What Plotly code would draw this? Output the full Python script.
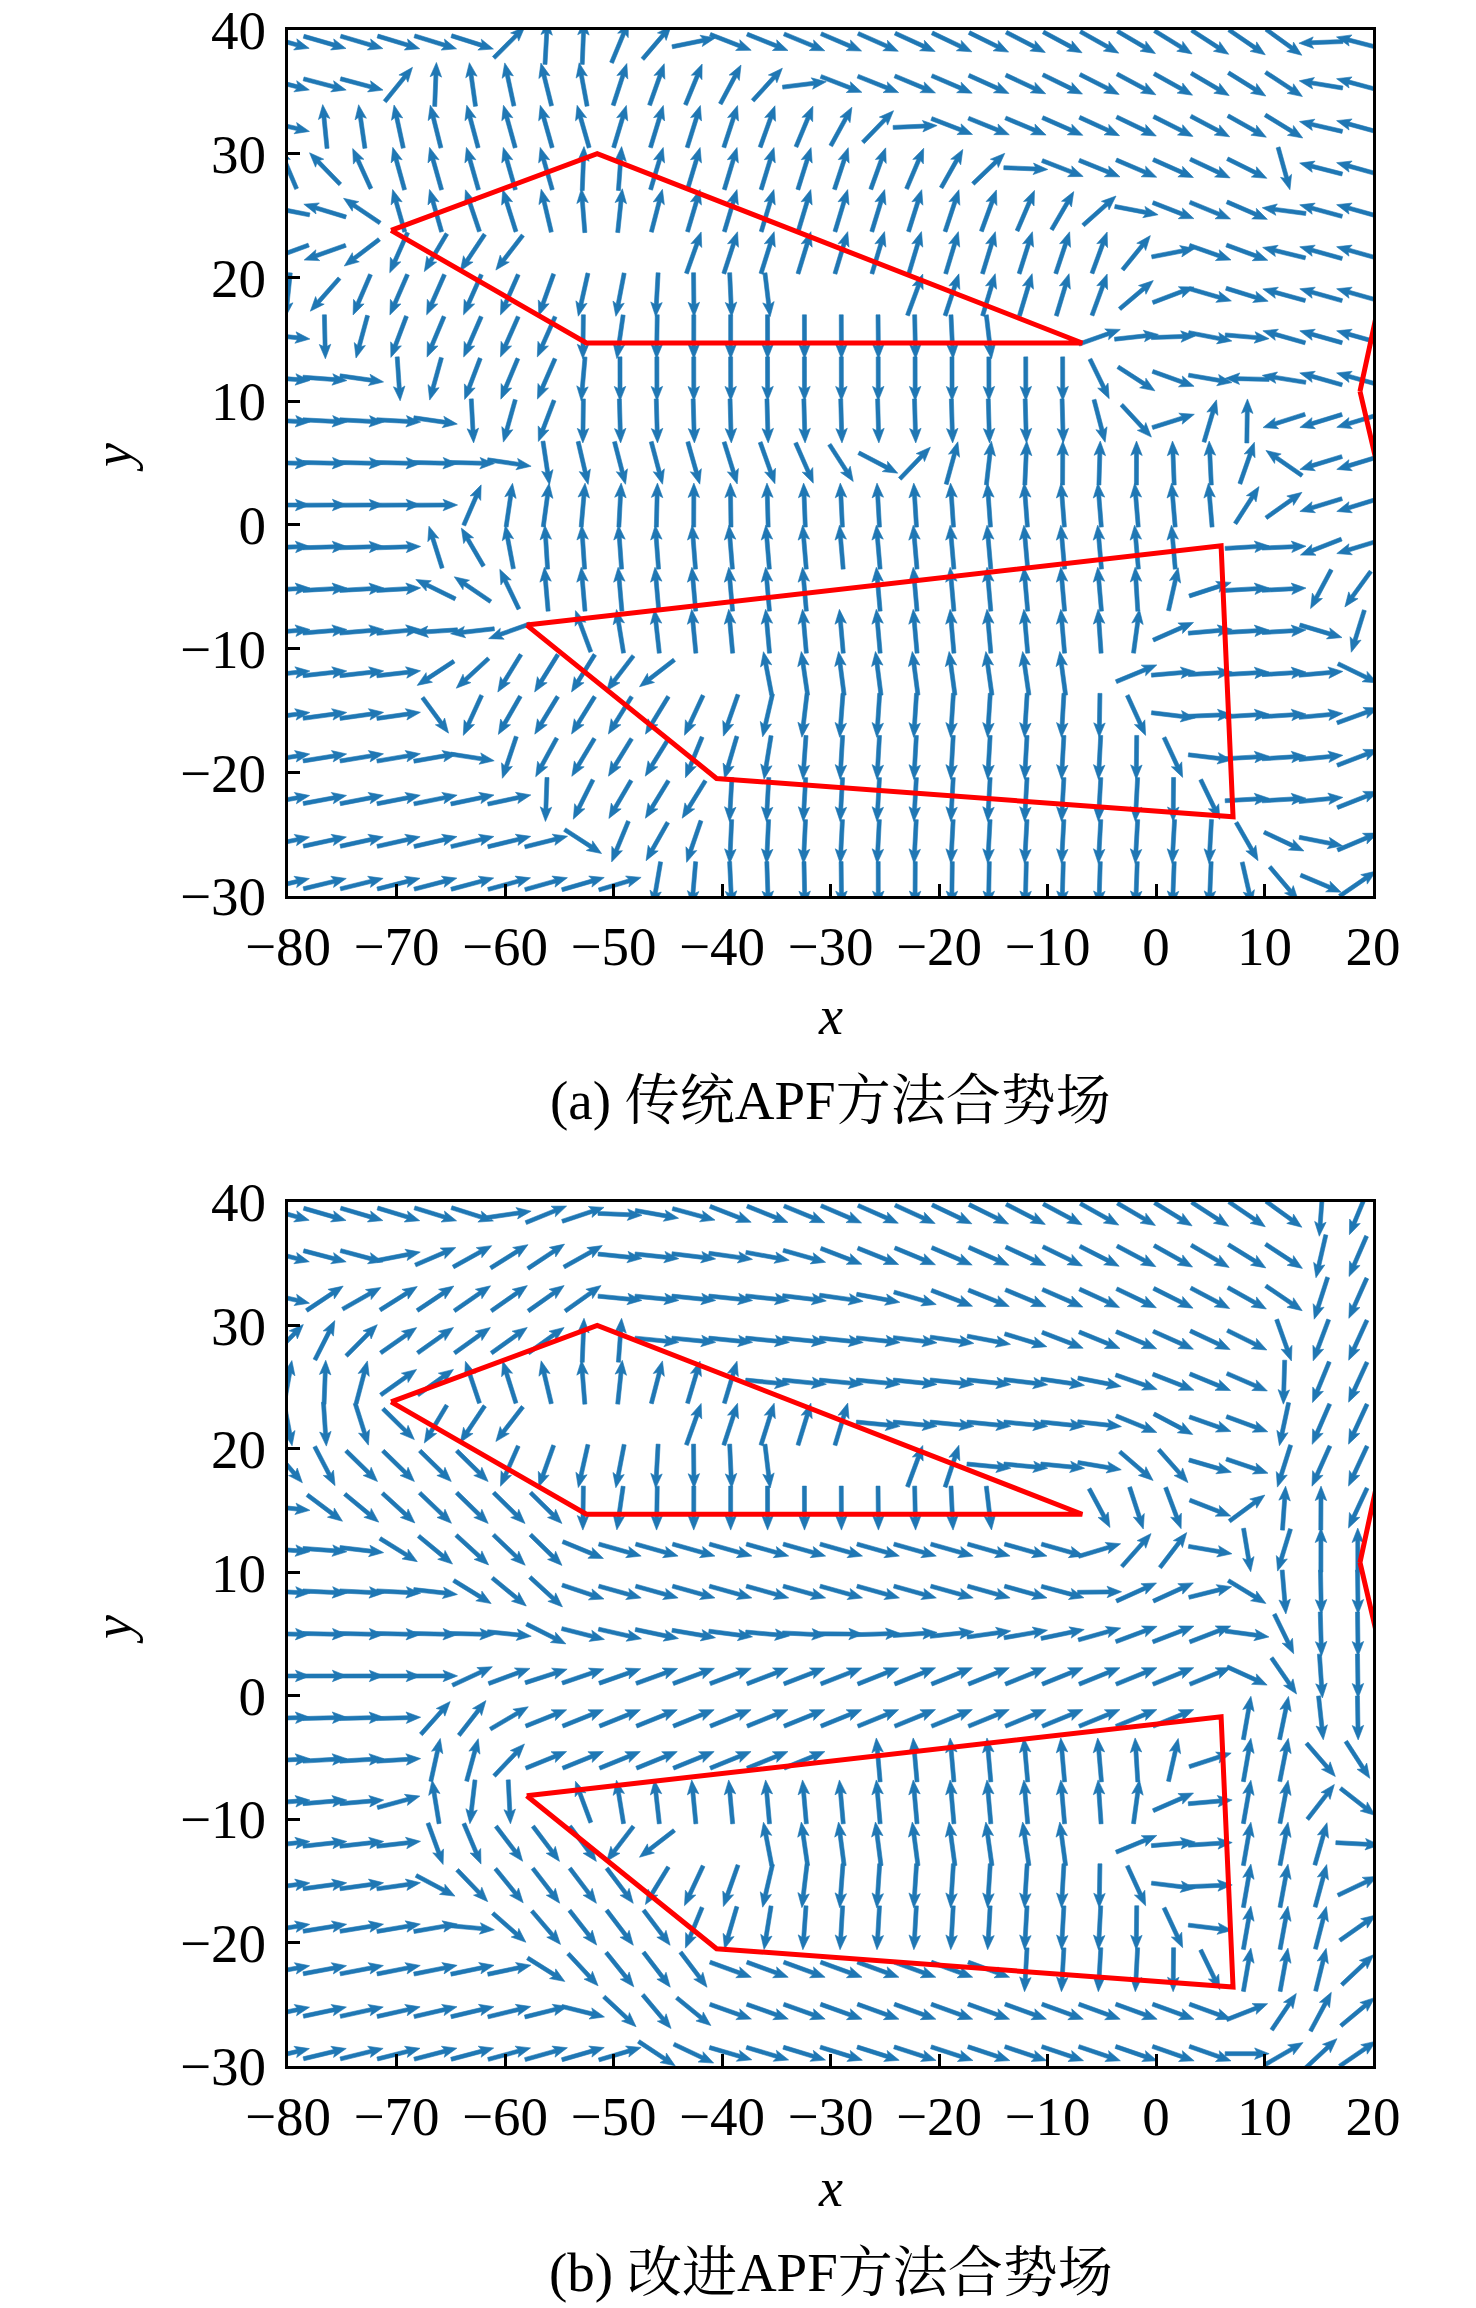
import numpy as np
import plotly.graph_objects as go

FIG_W, FIG_H = 1476, 2308
PAGE_MARGIN = 8   # default body margin of the html page

# sample points of the quiver grid (columns / rows)
GRID_X = [-80.0, -76.6, -73.2, -69.8, -66.4, -63.0, -59.6, -56.2, -52.8, -49.4,
          -46.0, -42.6, -39.2, -35.8, -32.4, -29.0, -25.6, -22.2, -18.8, -15.4,
          -12.0, -8.6, -5.2, -1.8, 1.6, 5.0, 8.4, 11.8, 15.2, 18.6]
GRID_Y = [39.0, 35.6, 32.2, 28.8, 25.4, 22.0, 18.6, 15.2, 11.8, 8.4, 5.0,
          1.6, -1.8, -5.2, -8.6, -12.0, -15.4, -18.8, -22.2, -25.6, -29.0]

# obstacle outlines (red polygons); the right one runs off the plot
UPPER_X = [-70.5, -51.5, -6.8, -52.5]
UPPER_Y = [23.8, 30.0, 14.7, 14.7]
LOWER_X = [-58.0, 6.0, 7.1, -40.5]
LOWER_Y = [-8.1, -1.7, -23.6, -20.5]
RIGHT_X = [18.8, 26.5, 40.0, 40.0, 22.0]
RIGHT_Y = [10.8, 42.0, 42.0, -1.2, -1.2]

# potential field parameters
GOAL = (70.0, 2.0)
RHO = 12.0           # obstacle influence range
K_REP = 16000.0
NORMAL_GAIN = 0.25   # improved APF: share of the pure repulsion
TANGENT_GAIN = 1.0   # improved APF: share of the sliding component
TAU = 1.5
GAP_LEVEL = 0.5

X_TICKS = [-80, -70, -60, -50, -40, -30, -20, -10, 0, 10, 20]
Y_TICKS = [-30, -20, -10, 0, 10, 20, 30, 40]
CAPTIONS = ["(a) 传统APF方法合势场", "(b) 改进APF方法合势场"]

BLUE = "#1f77b4"
SERIF = "Liberation Serif, Times New Roman, serif"
CJK = "Liberation Serif, Noto Serif CJK SC, Noto Sans CJK SC, serif"

# pixel boxes of the two axes (screen pixels)
AX_LEFT, AX_RIGHT = 288, 1373
PANEL_TOP = [30, 1202]
PANEL_BOTTOM = [896, 2066]

# arrow geometry in screen pixels
ARROW_LEN = 44.0
SHAFT_W = 4.0
HEAD_W = 11.5
HEAD_LEN = 14.5
HEAD_AXIS = 12.5

OBSTACLES = [(UPPER_X, UPPER_Y), (LOWER_X, LOWER_Y), (RIGHT_X, RIGHT_Y)]


def px_x(p):
    return (p - PAGE_MARGIN) / FIG_W


def px_y(p):
    return 1 - (p - PAGE_MARGIN) / FIG_H


def boundary_info(px, py, xs, ys):
    n = len(xs)
    inside = False
    dists, near = [], []
    for i in range(n):
        ax, ay = xs[i], ys[i]
        bx, by = xs[(i + 1) % n], ys[(i + 1) % n]
        if (ay > py) != (by > py):
            xint = ax + (py - ay) * (bx - ax) / (by - ay)
            if px < xint:
                inside = not inside
        ex, ey = bx - ax, by - ay
        t = ((px - ax) * ex + (py - ay) * ey) / (ex * ex + ey * ey)
        t = min(max(t, 0.0), 1.0)
        qx, qy = ax + t * ex, ay + t * ey
        dists.append(max(np.hypot(px - qx, py - qy), 1e-9))
        near.append((qx, qy))
    return inside, np.array(dists), near


def field_vector(px, py, improved):
    gx, gy = GOAL[0] - px, GOAL[1] - py
    g = np.hypot(gx, gy)
    ux, uy = gx / g, gy / g
    fx, fy = ux, uy
    for xs, ys in OBSTACLES:
        inside, d, near = boundary_info(px, py, xs, ys)
        if inside:
            w = np.exp(-(d - d.min()) / TAU)
            vx = sum(w[i] * (near[i][0] - px) / d[i] for i in range(len(d))) / w.sum()
            vy = sum(w[i] * (near[i][1] - py) / d[i] for i in range(len(d))) / w.sum()
            return vx, vy, np.hypot(vx, vy) >= GAP_LEVEL
        i = int(np.argmin(d))
        dm = d[i]
        if dm < RHO:
            nx, ny = (px - near[i][0]) / dm, (py - near[i][1]) / dm
            mag = K_REP * (1.0 / dm - 1.0 / RHO) / dm ** 2
            if improved:
                tx, ty = -ny, nx
                if tx * ux + ty * uy < 0:
                    tx, ty = -tx, -ty
                nx, ny = NORMAL_GAIN * nx + TANGENT_GAIN * tx, NORMAL_GAIN * ny + TANGENT_GAIN * ty
            fx += mag * nx
            fy += mag * ny
    return fx, fy, np.hypot(fx, fy) > 1e-9


def arrow_outline(x0, y0, vx, vy, sx, sy):
    # quiver arrow (pivot in the middle), built in pixels then mapped to data units
    dx, dy = vx * sx, vy * sy
    n = np.hypot(dx, dy)
    dx, dy = dx / n, dy / n
    L = ARROW_LEN
    shape = [(0, -SHAFT_W / 2), (L - HEAD_AXIS, -SHAFT_W / 2), (L - HEAD_LEN, -HEAD_W / 2),
             (L, 0), (L - HEAD_LEN, HEAD_W / 2), (L - HEAD_AXIS, SHAFT_W / 2),
             (0, SHAFT_W / 2), (0, -SHAFT_W / 2)]
    xs, ys = [], []
    for a, b in shape:
        a -= L / 2
        xs.append(x0 + (a * dx - b * dy) / sx)
        ys.append(y0 + (a * dy + b * dx) / sy)
    return xs, ys


fig = go.Figure()

for k in range(2):
    improved = k == 1
    xa = "x" if k == 0 else "x2"
    ya = "y" if k == 0 else "y2"
    sx = (AX_RIGHT - AX_LEFT) / (X_TICKS[-1] - X_TICKS[0])
    sy = (PANEL_BOTTOM[k] - PANEL_TOP[k]) / (Y_TICKS[-1] - Y_TICKS[0])

    ax_pts, ay_pts = [], []
    for yv in GRID_Y:
        for xv in GRID_X:
            vx, vy, ok = field_vector(xv, yv, improved)
            if not ok:
                continue
            xs, ys = arrow_outline(xv, yv, vx, vy, sx, sy)
            ax_pts += xs + [None]
            ay_pts += ys + [None]
    fig.add_trace(go.Scatter(x=ax_pts, y=ay_pts, mode="lines", fill="toself",
                             fillcolor=BLUE, line=dict(color=BLUE, width=0.6),
                             hoverinfo="skip", showlegend=False, xaxis=xa, yaxis=ya))

    for xs, ys in OBSTACLES:
        fig.add_trace(go.Scatter(x=list(xs) + [xs[0]], y=list(ys) + [ys[0]], mode="lines",
                                 line=dict(color="#ff0000", width=5),
                                 hoverinfo="skip", showlegend=False, xaxis=xa, yaxis=ya))

axis_common = dict(showline=True, linecolor="black", linewidth=3, mirror=True,
                   ticks="inside", ticklen=12, tickwidth=2.5, tickcolor="black",
                   showgrid=False, zeroline=False, automargin=False,
                   ticklabeloverflow="allow",
                   tickfont=dict(family=SERIF, size=55, color="black"))

x_dom = [px_x(AX_LEFT), px_x(AX_RIGHT)]
layout_axes = {}
for k in range(2):
    sfx = "" if k == 0 else "2"
    y_dom = [px_y(PANEL_BOTTOM[k]), px_y(PANEL_TOP[k])]
    layout_axes["xaxis" + sfx] = dict(axis_common, domain=x_dom, range=[X_TICKS[0], X_TICKS[-1]],
                                      tickvals=X_TICKS, anchor="y" + sfx, ticklabelstandoff=0)
    layout_axes["yaxis" + sfx] = dict(axis_common, domain=y_dom, range=[Y_TICKS[0], Y_TICKS[-1]],
                                      tickvals=Y_TICKS, anchor="x" + sfx, ticklabelstandoff=8)

annotations = []
for k in range(2):
    off = PANEL_TOP[k] - PANEL_TOP[0]
    common = dict(xref="paper", yref="paper", showarrow=False, xanchor="center", yanchor="middle")
    annotations.append(dict(common, text="<i>x</i>", x=px_x(831), y=px_y(1016 + off),
                            font=dict(family=SERIF, size=54, color="black")))
    annotations.append(dict(common, text="<i>y</i>", x=px_x(113), y=px_y(458 + off), textangle=-90,
                            font=dict(family=SERIF, size=54, color="black")))
    annotations.append(dict(common, text=CAPTIONS[k], x=px_x(831), y=px_y(1100 + off),
                            font=dict(family=CJK, size=55, color="black")))

fig.update_layout(width=FIG_W, height=FIG_H, autosize=False,
                  margin=dict(l=0, r=0, t=0, b=0),
                  paper_bgcolor="white", plot_bgcolor="white",
                  annotations=annotations, **layout_axes)

fig.write_html("out.html")
